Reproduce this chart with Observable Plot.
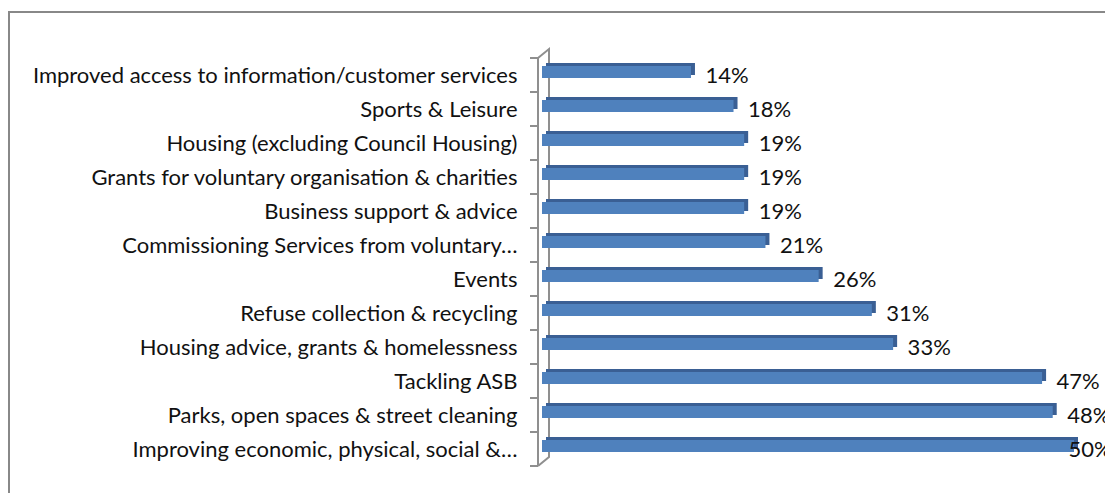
<!DOCTYPE html>
<html><head><meta charset="utf-8">
<script src="https://cdn.jsdelivr.net/npm/d3@7"></script>
<script src="https://cdn.jsdelivr.net/npm/@observablehq/plot@0.6"></script>
<style>
body{margin:0;background:#fff;}
#wrap{position:relative;width:1105px;height:493px;overflow:hidden;}
#border{position:absolute;left:8px;top:11px;width:1200px;height:600px;border-left:2px solid #888;border-top:2px solid #888;}
#chart{position:absolute;left:0;top:0;}
</style></head><body>
<div id="wrap"><div id="border"></div><div id="chart"></div></div>
<script>
const categories = [
  "Improved access to information/customer services",
  "Sports & Leisure",
  "Housing (excluding Council Housing)",
  "Grants for voluntary organisation & charities",
  "Business support & advice",
  "Commissioning Services from voluntary…",
  "Events",
  "Refuse collection & recycling",
  "Housing advice, grants & homelessness",
  "Tackling ASB",
  "Parks, open spaces & street cleaning",
  "Improving economic, physical, social &…"
];
const values = [0.14, 0.18, 0.19, 0.19, 0.19, 0.21, 0.26, 0.31, 0.33, 0.47, 0.48, 0.50];
const valueLabels = ["14%", "18%", "19%", "19%", "19%", "21%", "26%", "31%", "33%", "47%", "48%", "50%"];

const data = categories.map((c, i) => ({category: c, value: values[i], label: valueLabels[i]}));
const maxValue = d3.max(values);

function wall(index, scales, values, dims) {
  const x = scales.x, y = scales.y;
  const x0 = x(0);
  const bw = y.bandwidth();
  const front = x0 - 4, back = x0 + 7, depth = 9;
  const top = y(categories[0]);
  const bottom = y(categories[categories.length - 1]) + bw;
  const g = d3.create("svg:g")
    .attr("stroke", "#8f8f8f").attr("stroke-width", 2).attr("fill", "none");
  g.append("path").attr("d", `M${front},${top}L${back},${top - depth}V${bottom - depth}L${front},${bottom}`);
  return g.node();
}
function frontAxis(index, scales, values, dims) {
  const x = scales.x, y = scales.y;
  const x0 = x(0);
  const bw = y.bandwidth();
  const front = x0 - 4;
  const g = d3.create("svg:g")
    .attr("stroke", "#8f8f8f").attr("stroke-width", 2).attr("fill", "none");
  const top = y(categories[0]);
  const bottom = y(categories[categories.length - 1]) + bw;
  g.append("path").attr("d", `M${front},${top}V${bottom}`);
  const bounds = categories.map(c => y(c)).concat([bottom]);
  for (const b of bounds) g.append("path").attr("d", `M${front - 8},${b}H${front}`);
  return g.node();
}

const chart = Plot.plot({
  width: 1105,
  height: 493,
  marginLeft: 542,
  marginRight: 31,
  marginTop: 53,
  marginBottom: 22,
  style: {fontFamily: "Lato, sans-serif", fontSize: "22px", color: "#111", background: "transparent", overflow: "visible"},
  x: {domain: [0, 0.5], axis: null},
  y: {domain: categories, padding: 0, label: null},
  marks: [
    wall,
    Plot.barX(data, {x: "value", y: "category", fill: "#3a5f94", insetTop: 8, insetBottom: 14, dx: 4, dy: -3}),
    Plot.barX(data, {x: "value", y: "category", fill: "#4f81bd", insetTop: 8, insetBottom: 14}),
    Plot.barX(data, {x: "value", y: "category", fill: "#86a8d6", insetTop: 20, insetBottom: 14}),
    frontAxis,
    Plot.axisY({tickSize: 0, tickPadding: 25, fontSize: 22, fill: "#111"}),
    Plot.text(data.filter(d => d.value < maxValue), {x: "value", y: "category", text: "label", textAnchor: "start", dx: 14, fontSize: 22, fill: "#111"}),
    Plot.text(data.filter(d => d.value === maxValue), {x: "value", y: "category", text: "label", textAnchor: "start", dx: -6, fontSize: 22, fill: "#111"})
  ]
});
document.getElementById("chart").appendChild(chart);
</script>
</body></html>
